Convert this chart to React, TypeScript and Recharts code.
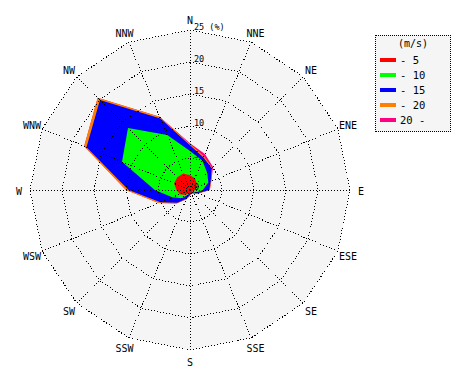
import { RadarChart, Radar, PolarGrid, PolarAngleAxis, PolarRadiusAxis } from 'recharts'

// ─── Data ─────────────────────────────────────────────────────────────────────

const directions = ['N', 'NNE', 'NE', 'ENE', 'E', 'ESE', 'SE', 'SSE', 'S', 'SSW', 'SW', 'WSW', 'W', 'WNW', 'NW', 'NNW']

// cumulative frequency (%) per direction, by upper speed bound
const upTo5  = [2.3, 2.0, 1.5, 1.1, 0.8, 0.5, 0.4, 0.4, 0.5, 0.6, 1.1, 1.7, 2.1, 2.7, 2.8, 2.8]
const upTo10 = [6.1, 5.0, 3.8, 3.1, 2.0, 1.0, 0.5, 0.4, 0.4, 0.8, 1.8, 3.0, 5.5, 11.5, 13.7, 9.3]
const upTo15 = [7.0, 5.5, 4.8, 3.5, 3.0, 1.3, 0.7, 0.5, 0.8, 1.5, 2.8, 5.0, 9.6, 17.5, 19.9, 12.1]
const upTo20 = [7.2, 5.7, 4.9, 3.6, 3.1, 1.4, 0.8, 0.6, 0.9, 1.6, 3.0, 5.3, 10.0, 17.9, 20.4, 12.4]
const above20 = [7.3, 6.1, 5.1, 3.6, 3.1, 1.4, 0.8, 0.6, 0.9, 1.6, 3.0, 5.3, 10.0, 17.9, 20.4, 12.4]

const radiusTicks = [0, 5, 10, 15, 20, 25]
const RMAX = 25

const classes = [
  { key: 'c5',  label: '- 5',  color: '#ff0000', values: upTo5 },
  { key: 'c10', label: '- 10', color: '#00ff00', values: upTo10 },
  { key: 'c15', label: '- 15', color: '#0000ff', values: upTo15 },
  { key: 'c20', label: '- 20', color: '#ff8000', values: upTo20 },
  { key: 'c99', label: '20 -', color: '#ff0080', values: above20 },
]

const chartData = directions.map((dir, i) => {
  const row: Record<string, string | number> = { dir, bg: RMAX }
  classes.forEach(c => { row[c.key] = c.values[i] })
  return row
})

// ─── Layout ───────────────────────────────────────────────────────────────────

const W = 470
const H = 380
const CX = 190
const CY = 190
const OUTER = 160
const LABEL_R = 171
const MONO = '"DejaVu Sans Mono", monospace'
const BG = '#f5f5f5'

const chartProps = {
  width: W,
  height: H,
  data: chartData,
  cx: CX,
  cy: CY,
  outerRadius: OUTER,
  margin: { top: 0, right: 0, bottom: 0, left: 0 },
}

function AngleTick(props: any) {
  const { x, y, payload } = props
  const dx = x - CX
  const dy = y - CY
  const len = Math.hypot(dx, dy) || 1
  return (
    <text
      x={CX + (dx / len) * LABEL_R}
      y={CY + (dy / len) * LABEL_R + 1}
      textAnchor="middle"
      dominantBaseline="central"
      fontFamily={MONO}
      fontSize={10}
      fill="#000"
    >
      {payload.value}
    </text>
  )
}

function RadiusTick(props: any) {
  const { x, y, payload } = props
  return (
    <text x={x + 4} y={y - 3} dominantBaseline="central" fontFamily={MONO} fontSize={8.5} fill="#000">
      {payload.value === RMAX ? `${RMAX} (%)` : payload.value}
    </text>
  )
}

export default function App() {
  return (
    <div style={{ position: 'absolute', left: 0, top: 0, width: W, height: H, background: '#fff' }}>
      {/* filled speed classes */}
      <div style={{ position: 'absolute', left: 0, top: 0 }}>
        <RadarChart {...chartProps}>
          <PolarAngleAxis dataKey="dir" tick={AngleTick} tickLine={false} axisLine={false} />
          <PolarRadiusAxis angle={90} domain={[0, RMAX]} ticks={radiusTicks} tick={false} axisLine={false} tickLine={false} />
          <Radar dataKey="bg" fill={BG} fillOpacity={1} stroke="none" isAnimationActive={false} legendType="none" />
          {[...classes].reverse().map(c => (
            <Radar
              key={c.key}
              dataKey={c.key}
              fill={c.color}
              fillOpacity={1}
              stroke="none"
              isAnimationActive={false}
            />
          ))}
        </RadarChart>
      </div>

      {/* dotted grid + radius labels drawn over the fills */}
      <div style={{ position: 'absolute', left: 0, top: 0, pointerEvents: 'none' }}>
        <RadarChart {...chartProps}>
          <PolarGrid gridType="polygon" stroke="#000" strokeDasharray="1 2" shapeRendering="crispEdges" />
          <PolarAngleAxis dataKey="dir" tick={false} tickLine={false} axisLine={false} />
          <PolarRadiusAxis
            angle={90}
            domain={[0, RMAX]}
            ticks={radiusTicks}
            tick={RadiusTick}
            axisLine={false}
            tickLine={false}
          />
          <Radar dataKey="bg" fill="none" stroke="none" isAnimationActive={false} legendType="none" />
        </RadarChart>
      </div>

      <div style={{
        position: 'absolute', left: 375, top: 35, width: 74, height: 95,
        border: '1px dotted #000', background: BG, fontFamily: MONO, fontSize: 10,
      }}>
        <div style={{ position: 'absolute', top: 2, left: 0, width: '100%', textAlign: 'center', lineHeight: '12px' }}>
          (m/s)
        </div>
        {classes.map((c, i) => (
          <div key={c.key} style={{ position: 'absolute', left: 4, top: 18 + i * 15, height: 12, display: 'flex', alignItems: 'center' }}>
            <span style={{ display: 'inline-block', width: 16, height: 4, background: c.color, marginRight: 4 }} />
            <span style={{ lineHeight: '12px', fontSize: 10.5 }}>{c.label}</span>
          </div>
        ))}
      </div>
    </div>
  )
}
